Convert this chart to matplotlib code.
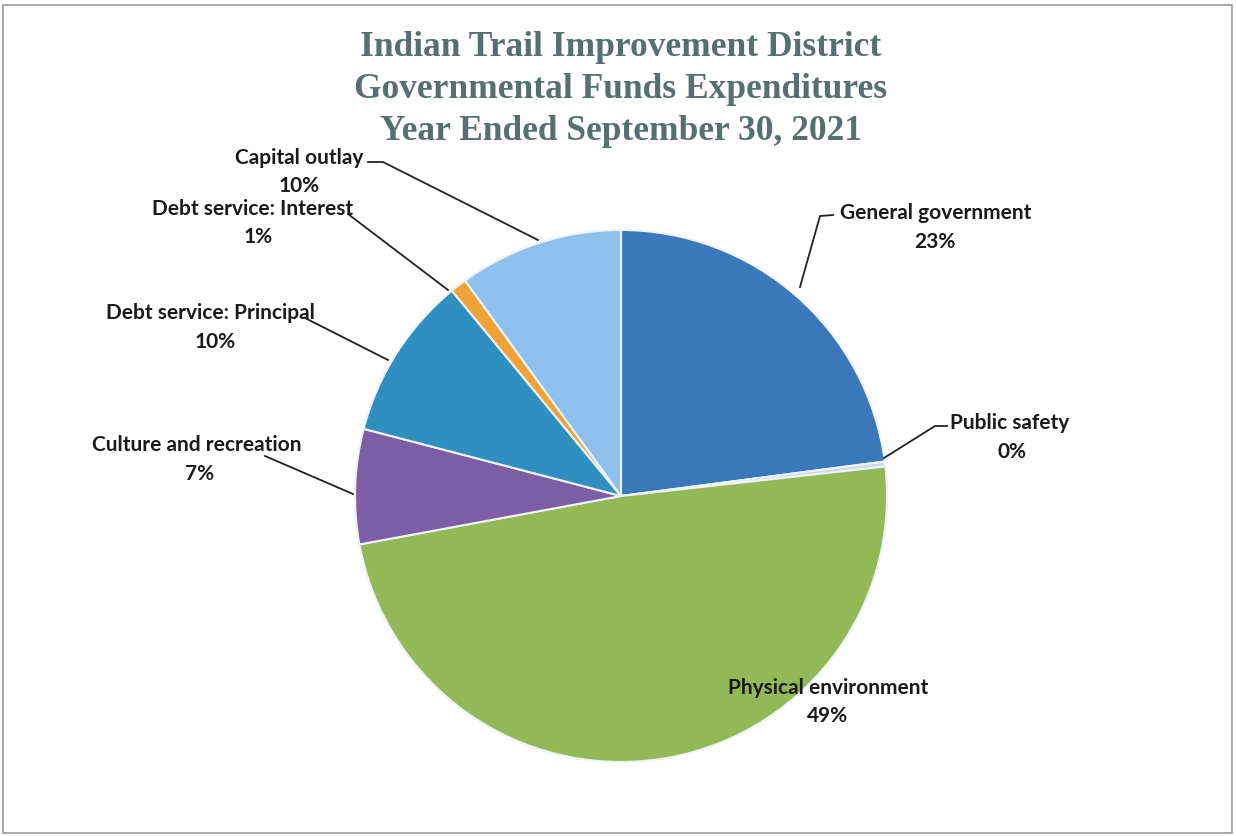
import matplotlib
matplotlib.use('Agg')
import matplotlib.pyplot as plt
from matplotlib.patches import Rectangle

# --- Data (clockwise from 12 o'clock) ---
categories = ["General government", "Public safety", "Physical environment",
              "Culture and recreation", "Debt service: Principal",
              "Debt service: Interest", "Capital outlay"]
values = [23, 0.3, 49, 7, 10, 1, 10]
pct_labels = ["23%", "0%", "49%", "7%", "10%", "1%", "10%"]
colors = ["#3a77bb", "#c9d9ea", "#93b957", "#7d5ea6", "#2e8fc0", "#f0a236", "#8dc0ec"]

title_lines = ["Indian Trail Improvement District",
               "Governmental Funds Expenditures",
               "Year Ended September 30, 2021"]

W, H = 1236, 836
fig = plt.figure(figsize=(W / 100, H / 100), dpi=100, facecolor='white')

# pie drawn in its own axes so the inverted y of the overlay does not mirror it
cx, cy, r = 621, 496, 266
pax = fig.add_axes([(cx - r) / W, 1 - (cy + r) / H, 2 * r / W, 2 * r / H])
wedges, _ = pax.pie(values, colors=colors, startangle=90, counterclock=False,
                    wedgeprops=dict(edgecolor='#eef3f8', linewidth=1.5))
pax.set_xlim(-1.0, 1.0)
pax.set_ylim(-1.0, 1.0)
pax.set_aspect('equal')
pax.axis('off')
pax.set_zorder(1)

# overlay in pixel coordinates for title, labels, leaders and frame
ax = fig.add_axes([0, 0, 1, 1])
ax.set_xlim(0, W)
ax.set_ylim(H, 0)
ax.axis('off')
ax.set_zorder(2)

# frame
ax.add_patch(Rectangle((3, 5), 1229, 828, fill=False, edgecolor='#9a9a9a', linewidth=1.2))

# title
for i, line in enumerate(title_lines):
    ax.text(621, 48 + i * 42, line, ha='center', va='center', fontsize=25.5,
            fontweight='bold', family='Liberation Serif', color='#56706f')

# labels: (name xy, pct xy, leader polyline)
label_pos = {
    "Capital outlay": ((299, 158), (299, 186), [(368, 162), (383, 162), (538, 240)]),
    "Debt service: Interest": ((253, 209), (258, 237), [(348, 214), (448, 290)]),
    "Debt service: Principal": ((210, 313), (215, 342), [(305, 318), (388, 360)]),
    "Culture and recreation": ((197, 445), (200, 474), [(265, 456), (353, 494)]),
    "General government": ((936, 213), (935, 242), [(833, 215), (820, 216), (800, 287)]),
    "Public safety": ((1010, 423), (1012, 452), [(947, 426), (935, 426), (884, 458)]),
    "Physical environment": ((828, 688), (828, 716), []),
}
for name, pct in zip(categories, pct_labels):
    (nx, ny), (px, py), line = label_pos[name]
    ax.text(nx, ny, name, ha='center', va='center', fontsize=15,
            fontweight='bold', family='Lato', color='#1a1a1a', zorder=5)
    ax.text(px, py, pct, ha='center', va='center', fontsize=15,
            fontweight='bold', family='Lato', color='#1a1a1a', zorder=5)
    if line:
        xs, ys = zip(*line)
        ax.plot(xs, ys, color='#222222', linewidth=1.3, zorder=4)

fig.savefig('out.png', dpi=100, facecolor='white')
